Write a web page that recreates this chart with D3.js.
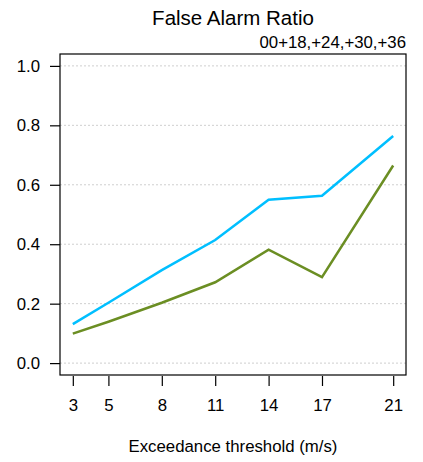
<!DOCTYPE html>
<html>
<head>
<meta charset="utf-8">
<script src="https://cdn.jsdelivr.net/npm/d3@7"></script>
<style>
html, body { margin: 0; padding: 0; background: #fff; }
svg { display: block; }
text { font-family: "Liberation Sans", Arial, Helvetica, sans-serif; fill: #000; }
</style>
</head>
<body>
<svg id="chart" width="423" height="462"></svg>
<script>
const thresholds = [3, 5, 8, 11, 14, 17, 21];
const seriesBlue = [0.131, 0.203, 0.313, 0.414, 0.550, 0.563, 0.764];
const seriesGreen = [0.099, 0.139, 0.203, 0.272, 0.382, 0.289, 0.665];
const yTicks = [0.0, 0.2, 0.4, 0.6, 0.8, 1.0];
const titleText = "False Alarm Ratio";
const subtitleText = "00+18,+24,+30,+36";
const xLabel = "Exceedance threshold (m/s)";

const svg = d3.select("#chart");
const box = {left: 60, right: 406, top: 54, bottom: 375};

const xPad = (21 - 3) * 0.04, yPad = 0.04;
const x = d3.scaleLinear().domain([3 - xPad, 21 + xPad]).range([box.left, box.right]);
const y = d3.scaleLinear().domain([0 - yPad, 1 + yPad]).range([box.bottom, box.top]);

// grid
svg.append("g").selectAll("line").data(yTicks).join("line")
  .attr("x1", box.left).attr("x2", box.right)
  .attr("y1", d => y(d)).attr("y2", d => y(d))
  .attr("stroke", "#cfcfcf").attr("stroke-width", 1).attr("stroke-dasharray", "2,2");

// lines
const line = d3.line().x((d, i) => x(thresholds[i])).y(d => y(d));
svg.append("path").datum(seriesBlue).attr("d", line)
  .attr("fill", "none").attr("stroke", "#00BFFF").attr("stroke-width", 2.5);
svg.append("path").datum(seriesGreen).attr("d", line)
  .attr("fill", "none").attr("stroke", "#6B8E23").attr("stroke-width", 2.5);

// box
svg.append("rect").attr("x", box.left).attr("y", box.top)
  .attr("width", box.right - box.left).attr("height", box.bottom - box.top)
  .attr("fill", "none").attr("stroke", "#000").attr("stroke-width", 1.2);

// y axis
const yAxis = d3.axisLeft(y).tickValues(yTicks).tickFormat(d3.format(".1f")).tickSize(10).tickPadding(10);
const gy = svg.append("g").attr("transform", `translate(${box.left},0)`).call(yAxis);
gy.select(".domain").remove();
gy.selectAll(".tick line").attr("stroke", "#000").attr("stroke-width", 1.2);
gy.selectAll(".tick text").style("font-size", "16.8px").attr("font-family", null);

// x axis
const xAxis = d3.axisBottom(x).tickValues(thresholds).tickSize(10).tickPadding(13);
const gx = svg.append("g").attr("transform", `translate(0,${box.bottom + 1})`).call(xAxis);
gx.select(".domain").remove();
gx.selectAll(".tick line").attr("stroke", "#000").attr("stroke-width", 1.2);
gx.selectAll(".tick text").style("font-size", "16.8px").attr("font-family", null);

// titles
svg.append("text").attr("x", (box.left + box.right) / 2).attr("y", 25)
  .attr("text-anchor", "middle").style("font-size", "20.5px").text(titleText);
svg.append("text").attr("x", box.right).attr("y", 48)
  .attr("text-anchor", "end").style("font-size", "16.8px").text(subtitleText);
svg.append("text").attr("x", (box.left + box.right) / 2).attr("y", 452)
  .attr("text-anchor", "middle").style("font-size", "16.8px").text(xLabel);
</script>
</body>
</html>
